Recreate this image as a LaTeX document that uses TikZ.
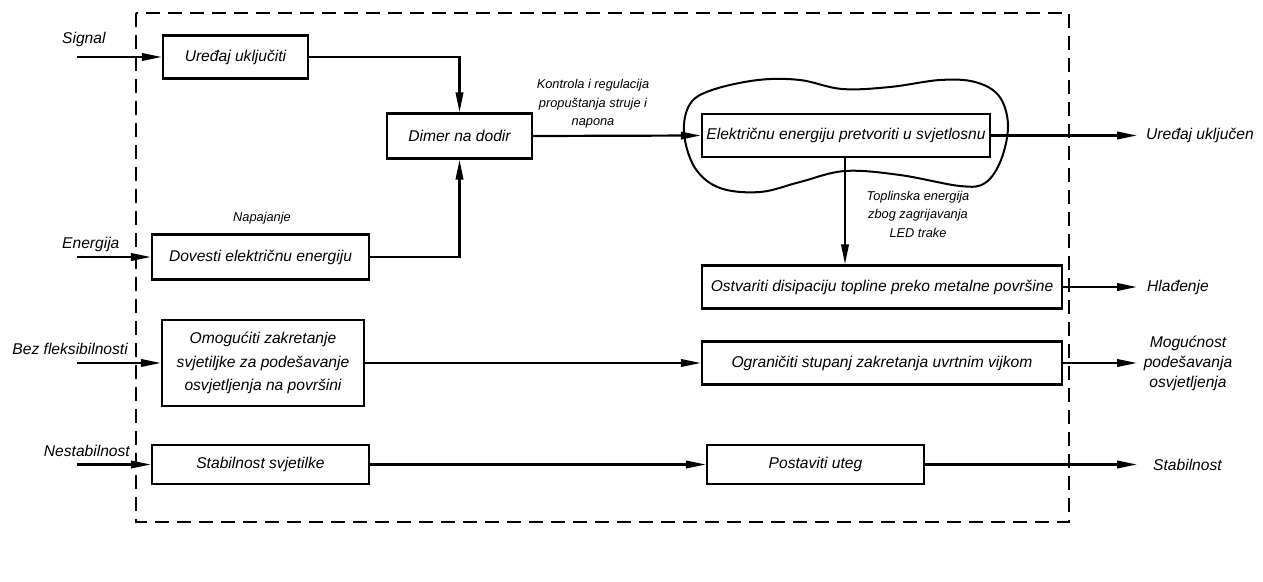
\documentclass[tikz,border=0pt]{standalone}
\usepackage{fontspec}
\setmainfont{Liberation Sans}
\usetikzlibrary{arrows.meta}
\begin{document}
\begin{tikzpicture}[x=1pt,y=-1pt,
  box/.style={draw,line width=2.3pt,inner sep=0pt,align=center,font=\fontsize{15.6}{23.5}\selectfont\itshape},
  lbl/.style={inner sep=0pt,font=\fontsize{15.6}{20}\selectfont\itshape},
  small/.style={inner sep=0pt,align=center,font=\fontsize{12.8}{18.5}\selectfont\itshape},
  arr/.style={line width=2.2pt,-{Triangle[length=20pt,width=7.5pt]}},
  frame/.style={line width=2.1pt,dash pattern=on 14pt off 8pt}]
\useasboundingbox (0,0) rectangle (1263,581);
% frame
\draw[frame] (136,13) rectangle (1069,522);
% boxes
\node[box,minimum width=145pt,minimum height=43pt] (u1) at (235.5,57) {Uređaj uključiti};
\node[box,minimum width=145pt,minimum height=45pt] (dim) at (459.5,136) {Dimer na dodir};
\node[box,minimum width=217pt,minimum height=45pt] (dov) at (260.5,257) {Dovesti električnu energiju};
\node[box,minimum width=288pt,minimum height=43pt] (ele) at (846,135.5) {Električnu energiju pretvoriti u svjetlosnu};
\node[box,minimum width=360pt,minimum height=43pt] (ost) at (882,287) {Ostvariti disipaciju topline preko metalne površine};
\node[box,minimum width=202pt,minimum height=86pt] (omo) at (263,363) {Omogućiti zakretanje\\svjetiljke za podešavanje\\osvjetljenja na površini};
\node[box,minimum width=360pt,minimum height=43pt] (ogr) at (882,363) {Ograničiti stupanj zakretanja uvrtnim vijkom};
\node[box,minimum width=217pt,minimum height=39pt] (sta) at (260.5,464.5) {Stabilnost svjetilke};
\node[box,minimum width=217pt,minimum height=39pt] (pos) at (815.5,464.5) {Postaviti uteg};
% cloud
\draw[line width=2pt] plot[smooth cycle,tension=0.6] coordinates {(684,133) (690,104) (712,90) (758,80) (800,80) (842,89) (890,87) (940,80) (975,82) (999,96) (1008,125) (1001,160) (985,183) (960,186) (900,175) (845,171) (800,182) (760,192) (720,188) (695,168)};
% input labels
\node[lbl,anchor=base west] (lsig) at (62,43) {Signal};
\node[lbl,anchor=base west] (lene) at (62,248) {Energija};
\node[lbl,anchor=base east] (lbez) at (128,354) {Bez fleksibilnosti};
\node[lbl,anchor=base east] (lnes) at (130,456) {Nestabilnost};
\coordinate (isig) at (77,57);
\coordinate (iene) at (77,257);
\coordinate (ibez) at (77,363);
\coordinate (ines) at (77,464.5);
% output labels
\coordinate (oupr) at (1137,135.5);
\coordinate (ohla) at (1137,287);
\coordinate (omog) at (1137,363);
\coordinate (osta) at (1137,464.5);
\node[lbl,anchor=west] (tupr) at (1146,135.5) {Uređaj uključen};
\node[lbl,anchor=west] (thla) at (1147,287) {Hlađenje};
\node[lbl,align=center] (tmog) at (1188,363) {Mogućnost\\podešavanja\\osvjetljenja};
\node[lbl,anchor=west] (tsta) at (1153,464.5) {Stabilnost};
% small labels
\node[small] (lkon) at (593,104) {Kontrola i regulacija\\propuštanja struje i\\napona};
\node[small] (ltop) at (918,214) {Toplinska energija\\zbog zagrijavanja\\LED trake};
\node[small] (lnap) at (262,218) {Napajanje};
% connectors
\draw[arr] (isig) -- (u1.west);
\draw[arr] (iene) -- (dov.west);
\draw[arr] (ibez) -- (omo.west);
\draw[arr] (ines) -- (sta.west);
\draw[arr] (u1.east) -| (dim.north);
\draw[arr] (dov.east) -| (dim.south);
\draw[arr] (dim.east) -- (ele.west);
\draw[arr] (ele.south -| 845,0) -- (ost.north -| 845,0);
\draw[arr] (omo.east) -- (ogr.west);
\draw[arr] (sta.east) -- (pos.west);
\draw[arr] (ele.east) -- (oupr);
\draw[arr] (ost.east) -- (ohla);
\draw[arr] (ogr.east) -- (omog);
\draw[arr] (pos.east) -- (osta);
\end{tikzpicture}
\end{document}
